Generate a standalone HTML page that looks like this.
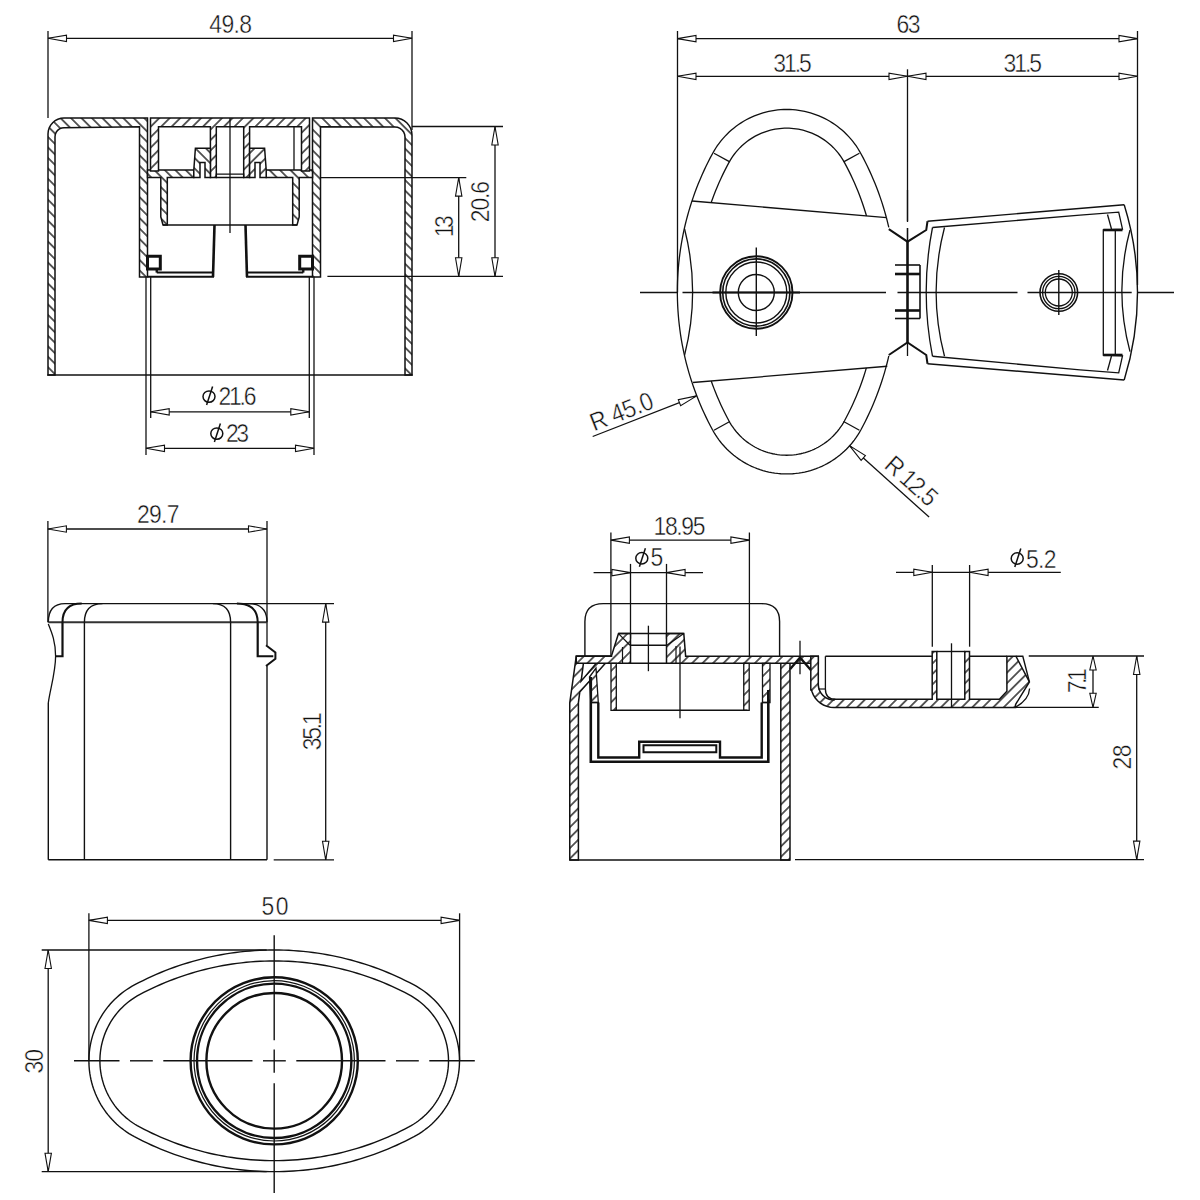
<!DOCTYPE html>
<html><head><meta charset="utf-8"><title>Drawing</title>
<style>html,body{margin:0;padding:0;background:#fff;}svg{display:block;}text{font-family:"Liberation Sans",sans-serif;fill:#111;stroke:#fff;stroke-width:0.45px;}</style>
</head><body>
<svg width="1200" height="1200" viewBox="0 0 1200 1200">
<defs>
<pattern id="hA" patternUnits="userSpaceOnUse" width="7.4" height="20" patternTransform="rotate(-45)"><rect width="7.4" height="20" fill="#fff"/><line x1="3.7" y1="-1" x2="3.7" y2="21" stroke="#111" stroke-width="1.35"/></pattern>
<pattern id="hB" patternUnits="userSpaceOnUse" width="7.4" height="20" patternTransform="rotate(45)"><rect width="7.4" height="20" fill="#fff"/><line x1="3.7" y1="-1" x2="3.7" y2="21" stroke="#111" stroke-width="1.35"/></pattern>
<pattern id="hA2" patternUnits="userSpaceOnUse" width="5.6" height="20" patternTransform="rotate(-45)"><rect width="5.6" height="20" fill="#fff"/><line x1="2.8" y1="-1" x2="2.8" y2="21" stroke="#111" stroke-width="1.4"/></pattern>
<pattern id="hB2" patternUnits="userSpaceOnUse" width="5.6" height="20" patternTransform="rotate(45)"><rect width="5.6" height="20" fill="#fff"/><line x1="2.8" y1="-1" x2="2.8" y2="21" stroke="#111" stroke-width="1.4"/></pattern>
</defs>
<rect width="1200" height="1200" fill="#fff"/>
<line x1="48" y1="31" x2="48" y2="118" stroke="#111" stroke-width="1.3" />
<line x1="412" y1="31" x2="412" y2="130" stroke="#111" stroke-width="1.3" />
<line x1="48" y1="38.3" x2="412" y2="38.3" stroke="#111" stroke-width="1.3" />
<path d="M48 38.3 L66.5 41.5 L66.5 35.1 Z" stroke="#111" stroke-width="1.1" fill="#fff" stroke-linejoin="miter"/>
<path d="M412 38.3 L393.5 35.1 L393.5 41.5 Z" stroke="#111" stroke-width="1.1" fill="#fff" stroke-linejoin="miter"/>
<text x="0" y="0" font-size="25.5" text-anchor="start" textLength="47.44" lengthAdjust="spacing" transform="translate(209.3 32.7) scale(0.9 1)">49.8</text>
<path d="M48 375 L48 134 L48.31 130.88 L49.22 127.88 L50.7 125.11 L52.69 122.69 L55.11 120.7 L57.88 119.22 L60.88 118.31 L64 118 L147.5 118 L147.5 277 L139.5 277 L139.5 126.7 L64 127.7 L61.67 128.01 L59.5 128.91 L57.64 130.34 L56.21 132.2 L55.31 134.37 L55 136.7 L55 375 Z" fill="url(#hA)" stroke="#111" stroke-width="1.5" fill-rule="evenodd" stroke-linejoin="miter"/>
<path d="M412 375 L412 135 L411.67 131.68 L410.71 128.49 L409.13 125.56 L407.02 122.98 L404.44 120.87 L401.51 119.29 L398.32 118.33 L395 118 L312.5 118 L312.5 277 L320.5 277 L320.5 126.7 L395 127 L397.59 127.34 L400 128.34 L402.07 129.93 L403.66 132 L404.66 134.41 L405 137 L405 375 Z" fill="url(#hA)" stroke="#111" stroke-width="1.5" fill-rule="evenodd" stroke-linejoin="miter"/>
<line x1="47.3" y1="375" x2="412.7" y2="375" stroke="#111" stroke-width="1.5" />
<path d="M147.5 177.5 L160.8 177.5 L160.8 217 L163 225 L167.3 225 L167.3 177.5 L193.8 177.5 L193.8 170 L147.5 170 Z M266.2 177.5 L292.7 177.5 L292.7 225 L297 225 L299.2 217 L299.2 177.5 L312.5 177.5 L312.5 170 L266.2 170 Z" fill="url(#hA)" stroke="#111" stroke-width="1.5" fill-rule="evenodd" stroke-linejoin="miter"/>
<path d="M309.5 118 L301.5 118 L158.5 118 L150.5 118 L150.5 126.7 L150.5 171 L158.5 171 L158.5 126.7 L210.4 126.7 L210.4 177.5 L216.3 177.5 L216.3 126.7 L243.7 126.7 L243.7 177.5 L249.6 177.5 L249.6 126.7 L301.5 126.7 L301.5 171 L309.5 171 L309.5 126.7 Z" fill="url(#hB)" stroke="#111" stroke-width="1.5" fill-rule="evenodd" stroke-linejoin="miter"/>
<line x1="294" y1="126.7" x2="294" y2="170" stroke="#111" stroke-width="1.3" />
<path d="M193.8 177.5 L193.8 170 L195.4 148.3 L210.4 148.3 L210.4 177.5 L205 177.5 L205 162.5 L200 162.5 L200 177.5 Z" fill="url(#hA)" stroke="#111" stroke-width="1.5" fill-rule="evenodd" stroke-linejoin="miter"/>
<path d="M266.2 177.5 L266.2 170 L264.6 148.3 L249.6 148.3 L249.6 177.5 L255 177.5 L255 162.5 L260 162.5 L260 177.5 Z" fill="url(#hB)" stroke="#111" stroke-width="1.5" fill-rule="evenodd" stroke-linejoin="miter"/>
<path d="M216.3 174.2 L243.7 174.2 L243.7 177.5 L216.3 177.5 Z" stroke="#111" stroke-width="1.3" fill="none" stroke-linejoin="miter"/>
<line x1="163" y1="225" x2="297" y2="225" stroke="#111" stroke-width="1.5" />
<line x1="230" y1="118" x2="230" y2="233" stroke="#111" stroke-width="1.3" />
<line x1="214.5" y1="225" x2="213" y2="277" stroke="#111" stroke-width="2.6" />
<line x1="245.5" y1="225" x2="247" y2="277" stroke="#111" stroke-width="2.6" />
<path d="M156.75 272.6 L213 272.6 L213 276.75 L147.5 276.75" stroke="#111" stroke-width="2.0" fill="none" stroke-linejoin="miter"/>
<path d="M303.25 272.6 L247 272.6 L247 276.75 L312.5 276.75" stroke="#111" stroke-width="2.0" fill="none" stroke-linejoin="miter"/>
<path d="M147.5 256.3 L160.3 256.3 L160.3 269 L147.5 269 Z" stroke="#111" stroke-width="3.0" fill="none" stroke-linejoin="miter"/>
<path d="M156.75 269 L156.75 272.6" stroke="#111" stroke-width="2.4" fill="none" stroke-linejoin="miter"/>
<path d="M312.5 256.3 L299.7 256.3 L299.7 269 L312.5 269 Z" stroke="#111" stroke-width="3.0" fill="none" stroke-linejoin="miter"/>
<path d="M303.25 269 L303.25 272.6" stroke="#111" stroke-width="2.4" fill="none" stroke-linejoin="miter"/>
<line x1="146" y1="277" x2="146" y2="455" stroke="#111" stroke-width="1.3" />
<line x1="150.7" y1="277" x2="150.7" y2="418" stroke="#111" stroke-width="1.3" />
<line x1="309.3" y1="277" x2="309.3" y2="418" stroke="#111" stroke-width="1.3" />
<line x1="314" y1="277" x2="314" y2="455" stroke="#111" stroke-width="1.3" />
<line x1="150.7" y1="411.8" x2="309.3" y2="411.8" stroke="#111" stroke-width="1.3" />
<path d="M150.7 411.8 L169.2 415 L169.2 408.6 Z" stroke="#111" stroke-width="1.1" fill="#fff" stroke-linejoin="miter"/>
<path d="M309.3 411.8 L290.8 408.6 L290.8 415 Z" stroke="#111" stroke-width="1.1" fill="#fff" stroke-linejoin="miter"/>
<line x1="146" y1="448.3" x2="314" y2="448.3" stroke="#111" stroke-width="1.3" />
<path d="M146 448.3 L164.5 451.5 L164.5 445.1 Z" stroke="#111" stroke-width="1.1" fill="#fff" stroke-linejoin="miter"/>
<path d="M314 448.3 L295.5 445.1 L295.5 451.5 Z" stroke="#111" stroke-width="1.1" fill="#fff" stroke-linejoin="miter"/>
<g><ellipse cx="209" cy="396.6" rx="6" ry="5.7" stroke="#111" stroke-width="1.5" fill="none"/><line x1="212.6" y1="386.6" x2="206.6" y2="405.1" stroke="#111" stroke-width="1.5"/></g>
<text x="0" y="0" font-size="25.5" text-anchor="start" textLength="42.22" lengthAdjust="spacing" transform="translate(218.5 405.1) scale(0.9 1)">21.6</text>
<g><ellipse cx="216.8" cy="433.6" rx="6" ry="5.7" stroke="#111" stroke-width="1.5" fill="none"/><line x1="220.4" y1="423.6" x2="214.4" y2="442.1" stroke="#111" stroke-width="1.5"/></g>
<text x="0" y="0" font-size="25.5" text-anchor="start" textLength="25.56" lengthAdjust="spacing" transform="translate(226 442.4) scale(0.9 1)">23</text>
<line x1="412" y1="126.5" x2="503" y2="126.5" stroke="#111" stroke-width="1.3" />
<line x1="327.4" y1="276.3" x2="503" y2="276.3" stroke="#111" stroke-width="1.3" />
<line x1="320.7" y1="177.6" x2="466.3" y2="177.6" stroke="#111" stroke-width="1.3" />
<line x1="495" y1="126.5" x2="495" y2="276.3" stroke="#111" stroke-width="1.3" />
<path d="M495 126.5 L491.8 145 L498.2 145 Z" stroke="#111" stroke-width="1.1" fill="#fff" stroke-linejoin="miter"/>
<path d="M495 276.3 L498.2 257.8 L491.8 257.8 Z" stroke="#111" stroke-width="1.1" fill="#fff" stroke-linejoin="miter"/>
<line x1="458.7" y1="177.6" x2="458.7" y2="276.3" stroke="#111" stroke-width="1.3" />
<path d="M458.7 177.6 L455.5 196.1 L461.9 196.1 Z" stroke="#111" stroke-width="1.1" fill="#fff" stroke-linejoin="miter"/>
<path d="M458.7 276.3 L461.9 257.8 L455.5 257.8 Z" stroke="#111" stroke-width="1.1" fill="#fff" stroke-linejoin="miter"/>
<text x="0" y="0" font-size="25.5" text-anchor="start" textLength="24.44" lengthAdjust="spacing" transform="translate(453.3 237.3) rotate(-90) scale(0.9 1)">13</text>
<text x="0" y="0" font-size="25.5" text-anchor="start" textLength="45.89" lengthAdjust="spacing" transform="translate(489.3 222.2) rotate(-90) scale(0.9 1)">20.6</text>
<line x1="677.5" y1="31" x2="677.5" y2="292.5" stroke="#111" stroke-width="1.3" />
<line x1="1137.5" y1="31" x2="1137.5" y2="285" stroke="#111" stroke-width="1.3" />
<line x1="677.5" y1="38.6" x2="1137.5" y2="38.6" stroke="#111" stroke-width="1.3" />
<path d="M677.5 38.6 L696 41.8 L696 35.4 Z" stroke="#111" stroke-width="1.1" fill="#fff" stroke-linejoin="miter"/>
<path d="M1137.5 38.6 L1119 35.4 L1119 41.8 Z" stroke="#111" stroke-width="1.1" fill="#fff" stroke-linejoin="miter"/>
<line x1="677.5" y1="76.3" x2="1137.5" y2="76.3" stroke="#111" stroke-width="1.3" />
<path d="M677.5 76.3 L696 79.5 L696 73.1 Z" stroke="#111" stroke-width="1.1" fill="#fff" stroke-linejoin="miter"/>
<path d="M907.5 76.3 L889 73.1 L889 79.5 Z" stroke="#111" stroke-width="1.1" fill="#fff" stroke-linejoin="miter"/>
<path d="M907.5 76.3 L926 79.5 L926 73.1 Z" stroke="#111" stroke-width="1.1" fill="#fff" stroke-linejoin="miter"/>
<path d="M1137.5 76.3 L1119 73.1 L1119 79.5 Z" stroke="#111" stroke-width="1.1" fill="#fff" stroke-linejoin="miter"/>
<line x1="907.5" y1="69.3" x2="907.5" y2="222" stroke="#111" stroke-width="1.3" />
<line x1="907.5" y1="228" x2="907.5" y2="241.7" stroke="#111" stroke-width="1.3" />
<text x="0" y="0" font-size="25.5" text-anchor="start" textLength="26.67" lengthAdjust="spacing" transform="translate(896.5 32.7) scale(0.9 1)">63</text>
<text x="0" y="0" font-size="25.5" text-anchor="start" textLength="42.78" lengthAdjust="spacing" transform="translate(773.3 71.5) scale(0.9 1)">31.5</text>
<text x="0" y="0" font-size="25.5" text-anchor="start" textLength="42.78" lengthAdjust="spacing" transform="translate(1003.5 71.5) scale(0.9 1)">31.5</text>
<path d="M886.42 217.77 L885.87 215.71 L884.57 211.08 L883.19 206.48 L881.73 201.9 L880.2 197.35 L878.59 192.82 L876.91 188.31 L875.15 183.84 L873.32 179.4 L871.41 174.99 L869.43 170.61 L867.38 166.26 L865.26 161.95 L863.06 157.67 L860.8 153.44 L859.3 150.82 L857.72 148.25 L856.05 145.74 L854.29 143.3 L852.44 140.92 L850.51 138.6 L848.49 136.36 L846.4 134.19 L844.23 132.1 L841.99 130.08 L839.68 128.15 L837.3 126.3 L834.85 124.54 L832.35 122.86 L829.78 121.28 L827.17 119.78 L824.49 118.39 L821.78 117.08 L819.01 115.88 L816.21 114.78 L813.36 113.77 L810.49 112.87 L807.58 112.07 L804.65 111.38 L801.69 110.79 L798.72 110.31 L795.73 109.93 L792.72 109.67 L789.71 109.5 L786.7 109.45 L783.69 109.5 L780.68 109.67 L777.67 109.93 L774.68 110.31 L771.71 110.79 L768.75 111.38 L765.82 112.07 L762.91 112.87 L760.04 113.77 L757.19 114.78 L754.39 115.88 L751.62 117.08 L748.91 118.39 L746.23 119.78 L743.62 121.28 L741.05 122.86 L738.55 124.54 L736.1 126.3 L733.72 128.15 L731.41 130.08 L729.17 132.1 L727 134.19 L724.91 136.36 L722.89 138.6 L720.96 140.92 L719.11 143.3 L717.35 145.74 L715.68 148.25 L714.1 150.82 L712.6 153.44 L710.34 157.67 L708.14 161.95 L706.02 166.26 L703.97 170.61 L701.99 174.99 L700.08 179.4 L698.25 183.84 L696.49 188.31 L694.81 192.82 L693.2 197.35 L692 200.92" stroke="#111" stroke-width="1.3" fill="none" stroke-linejoin="miter"/>
<path d="M866.53 216.05 L865.32 212 L863.96 207.72 L862.53 203.46 L861.02 199.22 L859.45 195.01 L857.8 190.83 L856.09 186.67 L854.31 182.55 L852.46 178.45 L850.54 174.38 L848.55 170.35 L846.5 166.35 L844.38 162.39 L843.22 160.35 L841.99 158.35 L840.68 156.4 L839.31 154.5 L837.87 152.65 L836.37 150.84 L834.8 149.1 L833.17 147.41 L831.49 145.78 L829.74 144.21 L827.94 142.71 L826.09 141.27 L824.18 139.89 L822.23 138.59 L820.24 137.36 L818.2 136.19 L816.12 135.11 L814 134.09 L811.85 133.16 L809.67 132.3 L807.46 131.52 L805.22 130.81 L802.96 130.19 L800.67 129.65 L798.37 129.19 L796.05 128.82 L793.73 128.53 L791.39 128.32 L789.05 128.19 L786.7 128.15 L784.35 128.19 L782.01 128.32 L779.67 128.53 L777.35 128.82 L775.03 129.19 L772.73 129.65 L770.44 130.19 L768.18 130.81 L765.94 131.52 L763.73 132.3 L761.55 133.16 L759.4 134.09 L757.28 135.11 L755.2 136.19 L753.16 137.36 L751.17 138.59 L749.22 139.89 L747.31 141.27 L745.46 142.71 L743.66 144.21 L741.91 145.78 L740.23 147.41 L738.6 149.1 L737.03 150.84 L735.53 152.65 L734.09 154.5 L732.72 156.4 L731.41 158.35 L730.18 160.35 L729.02 162.39 L726.9 166.35 L724.85 170.35 L722.86 174.38 L720.94 178.45 L719.09 182.55 L717.31 186.67 L715.6 190.83 L713.95 195.01 L712.38 199.22 L711.18 202.58" stroke="#111" stroke-width="1.3" fill="none" stroke-linejoin="miter"/>
<path d="M712.6 429.96 L714.1 432.58 L715.68 435.15 L717.35 437.66 L719.11 440.1 L720.96 442.48 L722.89 444.8 L724.91 447.04 L727 449.21 L729.17 451.3 L731.41 453.32 L733.72 455.25 L736.1 457.1 L738.55 458.86 L741.05 460.54 L743.62 462.12 L746.23 463.62 L748.91 465.01 L751.62 466.32 L754.39 467.52 L757.19 468.62 L760.04 469.63 L762.91 470.53 L765.82 471.33 L768.75 472.02 L771.71 472.61 L774.68 473.09 L777.67 473.47 L780.68 473.73 L783.69 473.9 L786.7 473.95 L789.71 473.9 L792.72 473.73 L795.73 473.47 L798.72 473.09 L801.69 472.61 L804.65 472.02 L807.58 471.33 L810.49 470.53 L813.36 469.63 L816.21 468.62 L819.01 467.52 L821.78 466.32 L824.49 465.01 L827.17 463.62 L829.78 462.12 L832.35 460.54 L834.85 458.86 L837.3 457.1 L839.68 455.25 L841.99 453.32 L844.23 451.3 L846.4 449.21 L848.49 447.04 L850.51 444.8 L852.44 442.48 L854.29 440.1 L856.05 437.66 L857.72 435.15 L859.3 432.58 L860.8 429.96 L863.06 425.73 L865.26 421.45 L867.38 417.14 L869.43 412.79 L871.41 408.41 L873.32 404 L875.15 399.56 L876.91 395.09 L878.59 390.58 L880.2 386.05 L881.73 381.5 L883.19 376.92 L884.57 372.32 L885.87 367.69 L886.25 366.25" stroke="#111" stroke-width="1.3" fill="none" stroke-linejoin="miter"/>
<path d="M692.05 382.64 L693.2 386.05 L694.81 390.58 L696.49 395.09 L698.25 399.56 L700.08 404 L701.99 408.41 L703.97 412.79 L706.02 417.14 L708.14 421.45 L710.34 425.73 L712.6 429.96" stroke="#111" stroke-width="1.3" fill="none" stroke-linejoin="miter"/>
<path d="M729.02 421.01 L730.18 423.05 L731.41 425.05 L732.72 427 L734.09 428.9 L735.53 430.75 L737.03 432.56 L738.6 434.3 L740.23 435.99 L741.91 437.62 L743.66 439.19 L745.46 440.69 L747.31 442.13 L749.22 443.51 L751.17 444.81 L753.16 446.04 L755.2 447.21 L757.28 448.29 L759.4 449.31 L761.55 450.24 L763.73 451.1 L765.94 451.88 L768.18 452.59 L770.44 453.21 L772.73 453.75 L775.03 454.21 L777.35 454.58 L779.67 454.87 L782.01 455.08 L784.35 455.21 L786.7 455.25 L789.05 455.21 L791.39 455.08 L793.73 454.87 L796.05 454.58 L798.37 454.21 L800.67 453.75 L802.96 453.21 L805.22 452.59 L807.46 451.88 L809.67 451.1 L811.85 450.24 L814 449.31 L816.12 448.29 L818.2 447.21 L820.24 446.04 L822.23 444.81 L824.18 443.51 L826.09 442.13 L827.94 440.69 L829.74 439.19 L831.49 437.62 L833.17 435.99 L834.8 434.3 L836.37 432.56 L837.87 430.75 L839.31 428.9 L840.68 427 L841.99 425.05 L843.22 423.05 L844.38 421.01 L846.5 417.05 L848.55 413.05 L850.54 409.02 L852.46 404.95 L854.31 400.85 L856.09 396.73 L857.8 392.57 L859.45 388.39 L861.02 384.18 L862.53 379.94 L863.96 375.68 L865.32 371.4 L866.36 367.93" stroke="#111" stroke-width="1.3" fill="none" stroke-linejoin="miter"/>
<path d="M711.26 381.02 L712.38 384.18 L713.95 388.39 L715.6 392.57 L717.31 396.73 L719.09 400.85 L720.94 404.95 L722.86 409.02 L724.85 413.05 L726.9 417.05 L729.02 421.01" stroke="#111" stroke-width="1.3" fill="none" stroke-linejoin="miter"/>
<path d="M886.25 366.25 L887.1 363.04 L888.25 358.38 L888.8 355.95" stroke="#111" stroke-width="1.3" fill="none" stroke-linejoin="miter"/>
<path d="M888.8 227.45 L888.25 225.02 L887.1 220.36 L886.42 217.77" stroke="#111" stroke-width="1.3" fill="none" stroke-linejoin="miter"/>
<path d="M692 200.92 L691.67 201.9 L690.21 206.48 L688.83 211.08 L687.53 215.71 L686.3 220.36 L685.15 225.02 L684.08 229.71 L683.09 234.41 L682.18 239.13 L681.34 243.86 L680.58 248.61 L679.91 253.37 L679.31 258.13 L678.79 262.91 L678.35 267.7 L677.99 272.49 L677.71 277.29 L677.51 282.09 L677.39 286.89 L677.35 291.7 L677.39 296.51 L677.51 301.31 L677.71 306.11 L677.99 310.91 L678.35 315.7 L678.79 320.49 L679.31 325.27 L679.91 330.03 L680.58 334.79 L681.34 339.54 L682.18 344.27 L683.09 348.99 L684.08 353.69 L685.15 358.38 L686.3 363.04 L687.53 367.69 L688.83 372.32 L690.21 376.92 L691.67 381.5 L692.05 382.64" stroke="#111" stroke-width="1.3" fill="none" stroke-linejoin="miter"/>
<line x1="691.9" y1="201" x2="886.6" y2="217.7" stroke="#111" stroke-width="1.3" />
<line x1="692.75" y1="382.5" x2="887.25" y2="366.25" stroke="#111" stroke-width="1.3" />
<line x1="714" y1="153.2" x2="729.8" y2="161.9" stroke="#111" stroke-width="1.3" />
<line x1="859.4" y1="153.2" x2="843.6" y2="161.9" stroke="#111" stroke-width="1.3" />
<line x1="714" y1="430.2" x2="729.8" y2="421.5" stroke="#111" stroke-width="1.3" />
<line x1="859.4" y1="430.2" x2="843.6" y2="421.5" stroke="#111" stroke-width="1.3" />
<path d="M684.6 229 A255.14 255.14 0 0 1 684.6 355" stroke="#111" stroke-width="1.3" fill="none" />
<path d="M888.8 229.2 L907.5 241.7 L926.25 230 L927.5 221.25" stroke="#111" stroke-width="2.0" fill="none" stroke-linejoin="miter"/>
<path d="M888.8 355 L907.5 342.5 L926.25 355 L927.5 363.75" stroke="#111" stroke-width="2.0" fill="none" stroke-linejoin="miter"/>
<line x1="907.5" y1="241.7" x2="907.5" y2="342.5" stroke="#111" stroke-width="2.6" />
<line x1="907.5" y1="190" x2="907.5" y2="221" stroke="#111" stroke-width="1.3" />
<line x1="907.5" y1="228" x2="907.5" y2="241" stroke="#111" stroke-width="1.3" />
<line x1="907.5" y1="342" x2="907.5" y2="356" stroke="#111" stroke-width="1.3" />
<line x1="895" y1="265" x2="920" y2="265" stroke="#111" stroke-width="1.6" />
<line x1="895" y1="274" x2="920" y2="274" stroke="#111" stroke-width="2.6" />
<line x1="895" y1="310.5" x2="920" y2="310.5" stroke="#111" stroke-width="2.6" />
<line x1="895" y1="318.5" x2="920" y2="318.5" stroke="#111" stroke-width="1.6" />
<line x1="920" y1="265" x2="920" y2="318.5" stroke="#111" stroke-width="1.6" />
<path d="M927.5 221.25 L1124.2 204.7" stroke="#111" stroke-width="1.4" fill="none" stroke-linejoin="miter"/>
<path d="M927.5 363.75 L1124.2 380" stroke="#111" stroke-width="1.4" fill="none" stroke-linejoin="miter"/>
<path d="M1124.2 204.7 A295.47 295.47 0 0 1 1124.2 380" stroke="#111" stroke-width="1.4" fill="none" />
<path d="M1080 215.1 L932.5 227.5" stroke="#111" stroke-width="1.3" fill="none" stroke-linejoin="miter"/>
<path d="M1080 369.9 L932.5 356.25" stroke="#111" stroke-width="1.3" fill="none" stroke-linejoin="miter"/>
<path d="M1080 215.1 L1118.7 212.2 L1122.5 229.2 L1103.3 230" stroke="#111" stroke-width="1.3" fill="none" stroke-linejoin="miter"/>
<line x1="1107.5" y1="214.5" x2="1111.5" y2="229" stroke="#111" stroke-width="1.3" />
<path d="M1080 369.9 L1118.7 372.8 L1122.5 355.8 L1103.3 355" stroke="#111" stroke-width="1.3" fill="none" stroke-linejoin="miter"/>
<line x1="1107.5" y1="370.5" x2="1111.5" y2="356" stroke="#111" stroke-width="1.3" />
<path d="M932.5 227.5 A334.63 334.63 0 0 0 932.5 356.25" stroke="#111" stroke-width="1.3" fill="none" />
<path d="M944.5 227.5 A255.26 255.26 0 0 0 944.5 356.25" stroke="#111" stroke-width="1.3" fill="none" />
<path d="M1103.3 230 L1115.3 230 L1115.3 355 L1103.3 355 Z" stroke="#111" stroke-width="1.3" fill="none" stroke-linejoin="miter"/>
<line x1="1103.3" y1="230" x2="1122.5" y2="230" stroke="#111" stroke-width="2.6" />
<line x1="1103.3" y1="355" x2="1122.5" y2="355" stroke="#111" stroke-width="2.6" />
<path d="M1130 230 A235.26 235.26 0 0 0 1130 351.7" stroke="#111" stroke-width="1.3" fill="none" />
<line x1="640" y1="292.5" x2="677.5" y2="292.5" stroke="#111" stroke-width="1.4" />
<line x1="682.5" y1="292.5" x2="886" y2="292.5" stroke="#111" stroke-width="1.4" />
<line x1="897.5" y1="292.5" x2="1017.5" y2="292.5" stroke="#111" stroke-width="1.4" />
<line x1="1027.5" y1="292.5" x2="1131.7" y2="292.5" stroke="#111" stroke-width="1.4" />
<line x1="1137.5" y1="292.5" x2="1174" y2="292.5" stroke="#111" stroke-width="1.4" />
<circle cx="756.3" cy="292.5" r="36.2" stroke="#111" stroke-width="1.9" fill="none"/>
<circle cx="756.3" cy="292.5" r="33.6" stroke="#111" stroke-width="1.6" fill="none"/>
<circle cx="756.3" cy="292.5" r="30.5" stroke="#111" stroke-width="1.4" fill="none"/>
<circle cx="756.3" cy="292.5" r="18" stroke="#111" stroke-width="1.4" fill="none"/>
<line x1="756.3" y1="247.5" x2="756.3" y2="336" stroke="#111" stroke-width="1.4" />
<line x1="712.5" y1="292.5" x2="800" y2="292.5" stroke="#111" stroke-width="2.0" />
<circle cx="1058.8" cy="292.5" r="18.8" stroke="#111" stroke-width="1.6" fill="none"/>
<circle cx="1058.8" cy="292.5" r="16.2" stroke="#111" stroke-width="1.3" fill="none"/>
<circle cx="1058.8" cy="292.5" r="13.5" stroke="#111" stroke-width="1.3" fill="none"/>
<line x1="1058.8" y1="270" x2="1058.8" y2="315" stroke="#111" stroke-width="1.4" />
<line x1="592.7" y1="436.5" x2="696.7" y2="395.9" stroke="#111" stroke-width="1.3" />
<path d="M696.7 395.9 L678.3 399.65 L680.63 405.61 Z" stroke="#111" stroke-width="1.1" fill="#fff" stroke-linejoin="miter"/>
<text x="0" y="0" font-size="25.5" text-anchor="start" textLength="73.33" lengthAdjust="spacing" transform="translate(594 431.5) rotate(-21.3) scale(0.9 1)">R 45.0</text>
<line x1="849.5" y1="445.6" x2="929.1" y2="517.1" stroke="#111" stroke-width="1.3" />
<path d="M849.5 445.6 L861.12 460.34 L865.4 455.58 Z" stroke="#111" stroke-width="1.1" fill="#fff" stroke-linejoin="miter"/>
<text x="0" y="0" font-size="25.5" text-anchor="start" textLength="67.78" lengthAdjust="spacing" transform="translate(883 467) rotate(41.9) scale(0.9 1)">R 12.5</text>
<line x1="47.9" y1="521" x2="47.9" y2="622.3" stroke="#111" stroke-width="1.3" />
<line x1="267" y1="521" x2="267" y2="645" stroke="#111" stroke-width="1.3" />
<line x1="47.9" y1="529" x2="267" y2="529" stroke="#111" stroke-width="1.3" />
<path d="M47.9 529 L66.4 532.2 L66.4 525.8 Z" stroke="#111" stroke-width="1.1" fill="#fff" stroke-linejoin="miter"/>
<path d="M267 529 L248.5 525.8 L248.5 532.2 Z" stroke="#111" stroke-width="1.1" fill="#fff" stroke-linejoin="miter"/>
<text x="0" y="0" font-size="25.5" text-anchor="start" textLength="47.22" lengthAdjust="spacing" transform="translate(137 522.5) scale(0.9 1)">29.7</text>
<line x1="65" y1="603.6" x2="334" y2="603.6" stroke="#111" stroke-width="1.4" />
<line x1="48.3" y1="622.3" x2="267" y2="622.3" stroke="#333" stroke-width="2.0" />
<line x1="273.7" y1="859.8" x2="334" y2="859.8" stroke="#111" stroke-width="1.3" />
<line x1="325.7" y1="603.6" x2="325.7" y2="859.8" stroke="#111" stroke-width="1.3" />
<path d="M325.7 603.6 L322.5 622.1 L328.9 622.1 Z" stroke="#111" stroke-width="1.1" fill="#fff" stroke-linejoin="miter"/>
<path d="M325.7 859.8 L328.9 841.3 L322.5 841.3 Z" stroke="#111" stroke-width="1.1" fill="#fff" stroke-linejoin="miter"/>
<text x="0" y="0" font-size="25.5" text-anchor="start" textLength="42" lengthAdjust="spacing" transform="translate(321.3 750.3) rotate(-90) scale(0.9 1)">35.1</text>
<path d="M48.3 622.3 Q48.3 603.6 65 603.6" stroke="#111" stroke-width="1.4" fill="none" />
<path d="M62.5 622.3 Q62.5 603.6 81.7 603.6" stroke="#111" stroke-width="2.0" fill="none" />
<path d="M84.4 622.3 Q84.4 603.6 102.5 603.6" stroke="#111" stroke-width="1.4" fill="none" />
<path d="M230.6 622.3 Q230.6 603.6 212.9 603.6" stroke="#111" stroke-width="1.4" fill="none" />
<path d="M257.7 622.3 Q257.7 603.6 236.9 603.6" stroke="#111" stroke-width="2.0" fill="none" />
<path d="M267 622.3 Q267 603.6 248.3 603.6" stroke="#111" stroke-width="1.4" fill="none" />
<path d="M62.5 622.3 L62.5 656.25 L55.6 656.25" stroke="#111" stroke-width="2.2" fill="none" stroke-linejoin="miter"/>
<path d="M48.3 624 C52 633 55.6 642 55.6 656.25 C55.6 672 50 690 48.3 703" stroke="#111" stroke-width="1.3" fill="none" />
<line x1="48.3" y1="703" x2="48.3" y2="859.8" stroke="#111" stroke-width="1.4" />
<line x1="84.4" y1="622.3" x2="84.4" y2="859.8" stroke="#111" stroke-width="1.4" />
<line x1="230.6" y1="622.3" x2="230.6" y2="859.8" stroke="#111" stroke-width="1.4" />
<path d="M257.7 622.3 L257.7 656.25 L273.3 656.25" stroke="#111" stroke-width="2.2" fill="none" stroke-linejoin="miter"/>
<path d="M266 645.2 L275.4 652.5 L275.4 658.75 L266 666" stroke="#111" stroke-width="2.0" fill="none" stroke-linejoin="miter"/>
<line x1="267" y1="666" x2="267" y2="859.8" stroke="#111" stroke-width="1.4" />
<line x1="48.3" y1="859.8" x2="267" y2="859.8" stroke="#111" stroke-width="1.5" />
<line x1="610.9" y1="532.5" x2="610.9" y2="656" stroke="#111" stroke-width="1.3" />
<line x1="749.4" y1="532.5" x2="749.4" y2="663" stroke="#111" stroke-width="1.3" />
<line x1="610.9" y1="540.1" x2="749.4" y2="540.1" stroke="#111" stroke-width="1.3" />
<path d="M610.9 540.1 L629.4 543.3 L629.4 536.9 Z" stroke="#111" stroke-width="1.1" fill="#fff" stroke-linejoin="miter"/>
<path d="M749.4 540.1 L730.9 536.9 L730.9 543.3 Z" stroke="#111" stroke-width="1.1" fill="#fff" stroke-linejoin="miter"/>
<text x="0" y="0" font-size="25.5" text-anchor="start" textLength="57.78" lengthAdjust="spacing" transform="translate(653.5 534.7) scale(0.9 1)">18.95</text>
<line x1="630.5" y1="563.9" x2="630.5" y2="638.7" stroke="#111" stroke-width="1.3" />
<line x1="666.5" y1="563.9" x2="666.5" y2="638.7" stroke="#111" stroke-width="1.3" />
<line x1="593.6" y1="572.6" x2="703" y2="572.6" stroke="#111" stroke-width="1.3" />
<path d="M630.4 572.6 L611.9 569.4 L611.9 575.8 Z" stroke="#111" stroke-width="1.1" fill="#fff" stroke-linejoin="miter"/>
<path d="M666.6 572.6 L685.1 575.8 L685.1 569.4 Z" stroke="#111" stroke-width="1.1" fill="#fff" stroke-linejoin="miter"/>
<g><ellipse cx="641.8" cy="558.2" rx="6" ry="5.7" stroke="#111" stroke-width="1.5" fill="none"/><line x1="645.4" y1="548.2" x2="639.4" y2="566.7" stroke="#111" stroke-width="1.5"/></g>
<text x="0" y="0" font-size="25.5" text-anchor="start" textLength="12.56" lengthAdjust="spacing" transform="translate(650.5 566) scale(0.9 1)">5</text>
<line x1="932.3" y1="565" x2="932.3" y2="646.7" stroke="#111" stroke-width="1.3" />
<line x1="969.6" y1="565" x2="969.6" y2="646.7" stroke="#111" stroke-width="1.3" />
<line x1="896" y1="572.3" x2="1060.8" y2="572.3" stroke="#111" stroke-width="1.3" />
<path d="M932.3 572.3 L913.8 569.1 L913.8 575.5 Z" stroke="#111" stroke-width="1.1" fill="#fff" stroke-linejoin="miter"/>
<path d="M969.6 572.3 L988.1 575.5 L988.1 569.1 Z" stroke="#111" stroke-width="1.1" fill="#fff" stroke-linejoin="miter"/>
<g><ellipse cx="1017.2" cy="558.5" rx="6" ry="5.7" stroke="#111" stroke-width="1.5" fill="none"/><line x1="1020.8" y1="548.5" x2="1014.8" y2="567" stroke="#111" stroke-width="1.5"/></g>
<text x="0" y="0" font-size="25.5" text-anchor="start" textLength="33.89" lengthAdjust="spacing" transform="translate(1026 568) scale(0.9 1)">5.2</text>
<path d="M584.9 656 L584.9 621.5 Q584.9 603.6 603.3 603.6 L761.5 603.6 Q779.6 603.6 779.6 621.5 L779.6 656" stroke="#111" stroke-width="1.4" fill="none" />
<path d="M611.7 663.3 L611.7 656.25 L584.3 656.25 L576.25 656.25 L569.75 702.8 L569.75 860 L578.4 860 L578.4 702.8 L579.76 692.09 L605.42 663.3 Z M596.3 663.3 L581.15 681.13 L583.41 663.3 Z" fill="url(#hB)" stroke="#111" stroke-width="1.5" fill-rule="evenodd" stroke-linejoin="miter"/>
<path d="M790 663.3 L790 860 L780.8 860 L780.8 663.3 Z" fill="url(#hB)" stroke="#111" stroke-width="1.5" fill-rule="evenodd" stroke-linejoin="miter"/>
<path d="M618.5 633.6 L611.5 655.8 L611.5 656.25 L576.25 656.25 L576.25 663.3 L611.5 663.3 L630.5 663.3 L630.5 656.25 L630.5 645.25 L630.5 633.6 Z M685.6 663.3 L818.3 663.3 L818.3 656.25 L685.6 656.25 L685.6 655.8 L683.8 633.6 L666.5 633.6 L666.5 645.25 L666.5 656.25 L666.5 663.3 Z" fill="url(#hB)" stroke="#111" stroke-width="1.5" fill-rule="evenodd" stroke-linejoin="miter"/>
<line x1="618.5" y1="633.6" x2="683.8" y2="633.6" stroke="#111" stroke-width="1.5" />
<line x1="630.5" y1="645.25" x2="666.5" y2="645.25" stroke="#111" stroke-width="1.4" />
<line x1="630.5" y1="663.3" x2="666.5" y2="663.3" stroke="#111" stroke-width="1.4" />
<line x1="618.5" y1="633.6" x2="630" y2="645.25" stroke="#111" stroke-width="1.2" />
<line x1="683.8" y1="633.6" x2="667" y2="645.25" stroke="#111" stroke-width="1.2" />
<line x1="622.5" y1="647" x2="622.5" y2="663.3" stroke="#111" stroke-width="1.2" />
<line x1="676" y1="646" x2="676" y2="663.3" stroke="#111" stroke-width="1.2" />
<path d="M790 669.2 L800 657.5 L810.8 670" stroke="#111" stroke-width="2.4" fill="none" stroke-linejoin="miter"/>
<line x1="800" y1="640.8" x2="800" y2="674.2" stroke="#111" stroke-width="1.3" />
<path d="M932.2 699.3 L834 699.3 L834 700 L831.54 699.81 L829.15 699.23 L826.87 698.29 L824.77 697 L822.9 695.4 L821.3 693.53 L820.01 691.43 L819.07 689.15 L818.49 686.76 L818.3 684.3 L818.3 656.25 L810.8 656.25 L810.8 684.3 L810.8 690 L811.58 690 L811.94 691.47 L813.33 694.83 L815.23 697.94 L817.6 700.7 L820.36 703.07 L823.47 704.97 L826.83 706.36 L830.37 707.21 L834 707.5 L1000 707.5 L1013.75 707.5 L1015.6 707.5 L1015.6 704.47 L1029.4 681.9 L1015.9 656.25 L1006.9 656.25 L1006.9 691.25 L999.4 699.3 L969.5 699.3 L969.5 651.5 L964.8 651.5 L964.8 699.3 L936.8 699.3 L936.8 651.5 L932.2 651.5 Z" fill="url(#hB)" stroke="#111" stroke-width="1.5" fill-rule="evenodd" stroke-linejoin="miter"/>
<path d="M1015.9 656.25 L1022.8 656.25 L1029.4 681.9" stroke="#111" stroke-width="1.4" fill="none" stroke-linejoin="miter"/>
<path d="M1029.6 688.5 Q1029 700 1015 707.5" stroke="#111" stroke-width="1.3" fill="none" />
<path d="M825.4 656.25 L825.4 689 Q825.4 699.3 835.5 699.3" stroke="#111" stroke-width="1.3" fill="none" />
<line x1="818.3" y1="689" x2="825.4" y2="689" stroke="#111" stroke-width="1.2" />
<line x1="825.4" y1="656.25" x2="932.2" y2="656.25" stroke="#111" stroke-width="1.4" />
<line x1="969.5" y1="656.25" x2="1006.8" y2="656.25" stroke="#111" stroke-width="1.4" />
<line x1="936.8" y1="651.5" x2="964.8" y2="651.5" stroke="#111" stroke-width="1.4" />
<line x1="951.5" y1="643.3" x2="951.5" y2="707.5" stroke="#111" stroke-width="1.3" />
<line x1="576.25" y1="656.25" x2="611" y2="656.25" stroke="#111" stroke-width="1.5" />
<path d="M616.3 663.3 L616.3 710.4 L611 710.4 L611 663.3 Z" fill="url(#hB)" stroke="#111" stroke-width="1.3" fill-rule="evenodd" stroke-linejoin="miter"/>
<path d="M749.2 663.3 L749.2 710.4 L743.75 710.4 L743.75 663.3 Z" fill="url(#hB)" stroke="#111" stroke-width="1.3" fill-rule="evenodd" stroke-linejoin="miter"/>
<line x1="614.2" y1="710.2" x2="747.5" y2="710.2" stroke="#111" stroke-width="1.5" />
<line x1="648.4" y1="625.7" x2="648.4" y2="671.2" stroke="#111" stroke-width="1.3" />
<line x1="680" y1="646.5" x2="680" y2="718.3" stroke="#111" stroke-width="1.3" />
<path d="M589.5 677 L596 668 L598.3 702.5 L590.8 702.5 Z" fill="url(#hB)" stroke="#111" stroke-width="1.3" fill-rule="evenodd" stroke-linejoin="miter"/>
<path d="M770 663.3 L770 702.5 L762.5 702.5 L762.5 663.3 Z" fill="url(#hB)" stroke="#111" stroke-width="1.3" fill-rule="evenodd" stroke-linejoin="miter"/>
<path d="M590.8 677 L590.8 761.7 L768.3 761.7 L768.3 690" stroke="#111" stroke-width="2.6" fill="none" stroke-linejoin="miter"/>
<path d="M598.3 702.5 L598.3 757.5 L639.2 757.5 L639.2 741.7 L720 741.7 L720 757.5 L761.7 757.5 L761.7 702.5" stroke="#111" stroke-width="2.4" fill="none" stroke-linejoin="miter"/>
<path d="M643.5 745.3 L716.3 745.3 L716.3 752.3 L643.5 752.3 Z" stroke="#111" stroke-width="2.0" fill="none" stroke-linejoin="miter"/>
<line x1="590.8" y1="702.5" x2="598.3" y2="702.5" stroke="#111" stroke-width="1.3" />
<line x1="761.7" y1="702.5" x2="768.3" y2="702.5" stroke="#111" stroke-width="1.3" />
<line x1="569.75" y1="860" x2="790" y2="860" stroke="#111" stroke-width="1.5" />
<line x1="795" y1="859.6" x2="1144" y2="859.6" stroke="#111" stroke-width="1.4" />
<line x1="1028.75" y1="656" x2="1144" y2="656" stroke="#111" stroke-width="1.3" />
<line x1="1015" y1="707.3" x2="1098.75" y2="707.3" stroke="#111" stroke-width="1.3" />
<line x1="1093" y1="656" x2="1093" y2="707.3" stroke="#111" stroke-width="1.3" />
<path d="M1093 656 L1089.8 670 L1096.2 670 Z" stroke="#111" stroke-width="1.1" fill="#fff" stroke-linejoin="miter"/>
<path d="M1093 707.3 L1096.2 693.3 L1089.8 693.3 Z" stroke="#111" stroke-width="1.1" fill="#fff" stroke-linejoin="miter"/>
<text x="0" y="0" font-size="25.5" text-anchor="start" textLength="27.56" lengthAdjust="spacing" transform="translate(1085.6 693.3) rotate(-90) scale(0.9 1)">7.1</text>
<line x1="1136.7" y1="656" x2="1136.7" y2="859.6" stroke="#111" stroke-width="1.3" />
<path d="M1136.7 656 L1133.5 674.5 L1139.9 674.5 Z" stroke="#111" stroke-width="1.1" fill="#fff" stroke-linejoin="miter"/>
<path d="M1136.7 859.6 L1139.9 841.1 L1133.5 841.1 Z" stroke="#111" stroke-width="1.1" fill="#fff" stroke-linejoin="miter"/>
<text x="0" y="0" font-size="25.5" text-anchor="start" textLength="27.78" lengthAdjust="spacing" transform="translate(1131 769.5) rotate(-90) scale(0.9 1)">28</text>
<line x1="88.9" y1="913.3" x2="88.9" y2="1061" stroke="#111" stroke-width="1.3" />
<line x1="459.6" y1="913.3" x2="459.6" y2="1061" stroke="#111" stroke-width="1.3" />
<line x1="88.9" y1="920.4" x2="459.6" y2="920.4" stroke="#111" stroke-width="1.3" />
<path d="M88.9 920.4 L107.4 923.6 L107.4 917.2 Z" stroke="#111" stroke-width="1.1" fill="#fff" stroke-linejoin="miter"/>
<path d="M459.6 920.4 L441.1 917.2 L441.1 923.6 Z" stroke="#111" stroke-width="1.1" fill="#fff" stroke-linejoin="miter"/>
<text x="0" y="0" font-size="25.5" text-anchor="start" textLength="30" lengthAdjust="spacing" transform="translate(261.5 915.4) scale(0.9 1)">50</text>
<line x1="41.7" y1="950" x2="266.7" y2="950" stroke="#111" stroke-width="1.3" />
<line x1="41.7" y1="1171.7" x2="266.7" y2="1171.7" stroke="#111" stroke-width="1.3" />
<line x1="48.2" y1="950" x2="48.2" y2="1171.7" stroke="#111" stroke-width="1.3" />
<path d="M48.2 950 L45 968.5 L51.4 968.5 Z" stroke="#111" stroke-width="1.1" fill="#fff" stroke-linejoin="miter"/>
<path d="M48.2 1171.7 L51.4 1153.2 L45 1153.2 Z" stroke="#111" stroke-width="1.1" fill="#fff" stroke-linejoin="miter"/>
<text x="0" y="0" font-size="25.5" text-anchor="start" textLength="27.22" lengthAdjust="spacing" transform="translate(42.5 1073.5) rotate(-90) scale(0.9 1)">30</text>
<path d="M414.01 984.94 L416.71 986.44 L419.36 988.05 L421.95 989.75 L424.48 991.54 L426.94 993.42 L429.33 995.39 L431.65 997.44 L433.89 999.57 L436.06 1001.79 L438.14 1004.08 L440.14 1006.44 L442.06 1008.88 L443.88 1011.38 L445.61 1013.94 L447.25 1016.57 L448.8 1019.26 L450.25 1021.99 L451.59 1024.78 L452.84 1027.62 L453.98 1030.49 L455.02 1033.41 L455.96 1036.36 L456.78 1039.35 L457.5 1042.36 L458.11 1045.4 L458.61 1048.45 L459 1051.53 L459.28 1054.61 L459.44 1057.7 L459.5 1060.8 L459.44 1063.9 L459.28 1066.99 L459 1070.07 L458.61 1073.15 L458.11 1076.2 L457.5 1079.24 L456.78 1082.25 L455.96 1085.24 L455.02 1088.19 L453.98 1091.11 L452.84 1093.98 L451.59 1096.82 L450.25 1099.61 L448.8 1102.34 L447.25 1105.03 L445.61 1107.66 L443.88 1110.22 L442.06 1112.72 L440.14 1115.16 L438.14 1117.52 L436.06 1119.81 L433.89 1122.03 L431.65 1124.16 L429.33 1126.21 L426.94 1128.18 L424.48 1130.06 L421.95 1131.85 L419.36 1133.55 L416.71 1135.16 L414.01 1136.66 L409.71 1138.91 L405.37 1141.09 L401 1143.2 L396.6 1145.24 L392.16 1147.2 L387.69 1149.1 L383.19 1150.91 L378.67 1152.66 L374.11 1154.33 L369.53 1155.93 L364.92 1157.45 L360.29 1158.89 L355.63 1160.26 L350.96 1161.55 L346.26 1162.77 L341.54 1163.91 L336.81 1164.97 L332.06 1165.96 L327.29 1166.86 L322.51 1167.69 L317.71 1168.44 L312.91 1169.12 L308.09 1169.71 L303.27 1170.22 L298.44 1170.66 L293.6 1171.02 L288.75 1171.29 L283.9 1171.49 L279.05 1171.61 L274.2 1171.65 L269.35 1171.61 L264.5 1171.49 L259.65 1171.29 L254.8 1171.02 L249.96 1170.66 L245.13 1170.22 L240.31 1169.71 L235.49 1169.12 L230.69 1168.44 L225.89 1167.69 L221.11 1166.86 L216.34 1165.96 L211.59 1164.97 L206.86 1163.91 L202.14 1162.77 L197.44 1161.55 L192.77 1160.26 L188.11 1158.89 L183.48 1157.45 L178.87 1155.93 L174.29 1154.33 L169.73 1152.66 L165.21 1150.91 L160.71 1149.1 L156.24 1147.2 L151.8 1145.24 L147.4 1143.2 L143.03 1141.09 L138.69 1138.91 L134.39 1136.66 L131.69 1135.16 L129.04 1133.55 L126.45 1131.85 L123.92 1130.06 L121.46 1128.18 L119.07 1126.21 L116.75 1124.16 L114.51 1122.03 L112.34 1119.81 L110.26 1117.52 L108.26 1115.16 L106.34 1112.72 L104.52 1110.22 L102.79 1107.66 L101.15 1105.03 L99.6 1102.34 L98.15 1099.61 L96.81 1096.82 L95.56 1093.98 L94.42 1091.11 L93.38 1088.19 L92.44 1085.24 L91.62 1082.25 L90.9 1079.24 L90.29 1076.2 L89.79 1073.15 L89.4 1070.07 L89.12 1066.99 L88.96 1063.9 L88.9 1060.8 L88.96 1057.7 L89.12 1054.61 L89.4 1051.53 L89.79 1048.45 L90.29 1045.4 L90.9 1042.36 L91.62 1039.35 L92.44 1036.36 L93.38 1033.41 L94.42 1030.49 L95.56 1027.62 L96.81 1024.78 L98.15 1021.99 L99.6 1019.26 L101.15 1016.57 L102.79 1013.94 L104.52 1011.38 L106.34 1008.88 L108.26 1006.44 L110.26 1004.08 L112.34 1001.79 L114.51 999.57 L116.75 997.44 L119.07 995.39 L121.46 993.42 L123.92 991.54 L126.45 989.75 L129.04 988.05 L131.69 986.44 L134.39 984.94 L138.69 982.69 L143.03 980.51 L147.4 978.4 L151.8 976.36 L156.24 974.4 L160.71 972.5 L165.21 970.69 L169.73 968.94 L174.29 967.27 L178.87 965.67 L183.48 964.15 L188.11 962.71 L192.77 961.34 L197.44 960.05 L202.14 958.83 L206.86 957.69 L211.59 956.63 L216.34 955.64 L221.11 954.74 L225.89 953.91 L230.69 953.16 L235.49 952.48 L240.31 951.89 L245.13 951.38 L249.96 950.94 L254.8 950.58 L259.65 950.31 L264.5 950.11 L269.35 949.99 L274.2 949.95 L279.05 949.99 L283.9 950.11 L288.75 950.31 L293.6 950.58 L298.44 950.94 L303.27 951.38 L308.09 951.89 L312.91 952.48 L317.71 953.16 L322.51 953.91 L327.29 954.74 L332.06 955.64 L336.81 956.63 L341.54 957.69 L346.26 958.83 L350.96 960.05 L355.63 961.34 L360.29 962.71 L364.92 964.15 L369.53 965.67 L374.11 967.27 L378.67 968.94 L383.19 970.69 L387.69 972.5 L392.16 974.4 L396.6 976.36 L401 978.4 L405.37 980.51 L409.71 982.69 Z" stroke="#111" stroke-width="1.4" fill="none" stroke-linejoin="miter"/>
<path d="M408.83 994.64 L411.18 995.96 L413.49 997.35 L415.75 998.84 L417.96 1000.4 L420.1 1002.04 L422.19 1003.75 L424.21 1005.54 L426.17 1007.4 L428.06 1009.33 L429.87 1011.33 L431.62 1013.39 L433.29 1015.52 L434.88 1017.7 L436.39 1019.94 L437.82 1022.23 L439.17 1024.57 L440.43 1026.96 L441.61 1029.39 L442.69 1031.86 L443.69 1034.37 L444.6 1036.92 L445.41 1039.49 L446.13 1042.09 L446.76 1044.72 L447.29 1047.37 L447.72 1050.03 L448.06 1052.71 L448.31 1055.4 L448.45 1058.1 L448.5 1060.8 L448.45 1063.5 L448.31 1066.2 L448.06 1068.89 L447.72 1071.57 L447.29 1074.23 L446.76 1076.88 L446.13 1079.51 L445.41 1082.11 L444.6 1084.68 L443.69 1087.23 L442.69 1089.74 L441.61 1092.21 L440.43 1094.64 L439.17 1097.03 L437.82 1099.37 L436.39 1101.66 L434.88 1103.9 L433.29 1106.08 L431.62 1108.21 L429.87 1110.27 L428.06 1112.27 L426.17 1114.2 L424.21 1116.06 L422.19 1117.85 L420.1 1119.56 L417.96 1121.2 L415.75 1122.76 L413.49 1124.25 L411.18 1125.64 L408.83 1126.96 L404.69 1129.13 L400.51 1131.23 L396.3 1133.26 L392.06 1135.22 L387.79 1137.11 L383.49 1138.93 L379.16 1140.68 L374.8 1142.36 L370.41 1143.97 L366 1145.51 L361.56 1146.97 L357.1 1148.36 L352.62 1149.68 L348.11 1150.93 L343.59 1152.1 L339.05 1153.2 L334.49 1154.22 L329.91 1155.17 L325.32 1156.04 L320.72 1156.84 L316.1 1157.56 L311.47 1158.21 L306.84 1158.78 L302.19 1159.28 L297.54 1159.7 L292.88 1160.04 L288.21 1160.31 L283.54 1160.5 L278.87 1160.61 L274.2 1160.65 L269.53 1160.61 L264.86 1160.5 L260.19 1160.31 L255.52 1160.04 L250.86 1159.7 L246.21 1159.28 L241.56 1158.78 L236.93 1158.21 L232.3 1157.56 L227.68 1156.84 L223.08 1156.04 L218.49 1155.17 L213.91 1154.22 L209.35 1153.2 L204.81 1152.1 L200.29 1150.93 L195.78 1149.68 L191.3 1148.36 L186.84 1146.97 L182.4 1145.51 L177.99 1143.97 L173.6 1142.36 L169.24 1140.68 L164.91 1138.93 L160.61 1137.11 L156.34 1135.22 L152.1 1133.26 L147.89 1131.23 L143.71 1129.13 L139.57 1126.96 L137.22 1125.64 L134.91 1124.25 L132.65 1122.76 L130.44 1121.2 L128.3 1119.56 L126.21 1117.85 L124.19 1116.06 L122.23 1114.2 L120.34 1112.27 L118.53 1110.27 L116.78 1108.21 L115.11 1106.08 L113.52 1103.9 L112.01 1101.66 L110.58 1099.37 L109.23 1097.03 L107.97 1094.64 L106.79 1092.21 L105.71 1089.74 L104.71 1087.23 L103.8 1084.68 L102.99 1082.11 L102.27 1079.51 L101.64 1076.88 L101.11 1074.23 L100.68 1071.57 L100.34 1068.89 L100.09 1066.2 L99.95 1063.5 L99.9 1060.8 L99.95 1058.1 L100.09 1055.4 L100.34 1052.71 L100.68 1050.03 L101.11 1047.37 L101.64 1044.72 L102.27 1042.09 L102.99 1039.49 L103.8 1036.92 L104.71 1034.37 L105.71 1031.86 L106.79 1029.39 L107.97 1026.96 L109.23 1024.57 L110.58 1022.23 L112.01 1019.94 L113.52 1017.7 L115.11 1015.52 L116.78 1013.39 L118.53 1011.33 L120.34 1009.33 L122.23 1007.4 L124.19 1005.54 L126.21 1003.75 L128.3 1002.04 L130.44 1000.4 L132.65 998.84 L134.91 997.35 L137.22 995.96 L139.57 994.64 L143.71 992.47 L147.89 990.37 L152.1 988.34 L156.34 986.38 L160.61 984.49 L164.91 982.67 L169.24 980.92 L173.6 979.24 L177.99 977.63 L182.4 976.09 L186.84 974.63 L191.3 973.24 L195.78 971.92 L200.29 970.67 L204.81 969.5 L209.35 968.4 L213.91 967.38 L218.49 966.43 L223.08 965.56 L227.68 964.76 L232.3 964.04 L236.93 963.39 L241.56 962.82 L246.21 962.32 L250.86 961.9 L255.52 961.56 L260.19 961.29 L264.86 961.1 L269.53 960.99 L274.2 960.95 L278.87 960.99 L283.54 961.1 L288.21 961.29 L292.88 961.56 L297.54 961.9 L302.19 962.32 L306.84 962.82 L311.47 963.39 L316.1 964.04 L320.72 964.76 L325.32 965.56 L329.91 966.43 L334.49 967.38 L339.05 968.4 L343.59 969.5 L348.11 970.67 L352.62 971.92 L357.1 973.24 L361.56 974.63 L366 976.09 L370.41 977.63 L374.8 979.24 L379.16 980.92 L383.49 982.67 L387.79 984.49 L392.06 986.38 L396.3 988.34 L400.51 990.37 L404.69 992.47 Z" stroke="#111" stroke-width="1.4" fill="none" stroke-linejoin="miter"/>
<circle cx="274.2" cy="1060.8" r="83.6" stroke="#111" stroke-width="2.4" fill="none"/>
<circle cx="274.2" cy="1060.8" r="80.2" stroke="#111" stroke-width="1.2" fill="none"/>
<circle cx="274.2" cy="1060.8" r="77.2" stroke="#111" stroke-width="2.4" fill="none"/>
<circle cx="274.2" cy="1060.8" r="67.8" stroke="#111" stroke-width="2.4" fill="none"/>
<line x1="74" y1="1060.8" x2="119.5" y2="1060.8" stroke="#111" stroke-width="1.4" />
<line x1="130" y1="1060.8" x2="152.8" y2="1060.8" stroke="#111" stroke-width="1.4" />
<line x1="163.3" y1="1060.8" x2="252.5" y2="1060.8" stroke="#111" stroke-width="1.4" />
<line x1="263" y1="1060.8" x2="285.8" y2="1060.8" stroke="#111" stroke-width="1.4" />
<line x1="296.3" y1="1060.8" x2="385.5" y2="1060.8" stroke="#111" stroke-width="1.4" />
<line x1="396" y1="1060.8" x2="418.8" y2="1060.8" stroke="#111" stroke-width="1.4" />
<line x1="429.3" y1="1060.8" x2="474.8" y2="1060.8" stroke="#111" stroke-width="1.4" />
<line x1="274.2" y1="935.2" x2="274.2" y2="1040.2" stroke="#111" stroke-width="1.4" />
<line x1="274.2" y1="1049.5" x2="274.2" y2="1072.8" stroke="#111" stroke-width="1.4" />
<line x1="274.2" y1="1083.3" x2="274.2" y2="1193" stroke="#111" stroke-width="1.4" />
</svg>
</body></html>
